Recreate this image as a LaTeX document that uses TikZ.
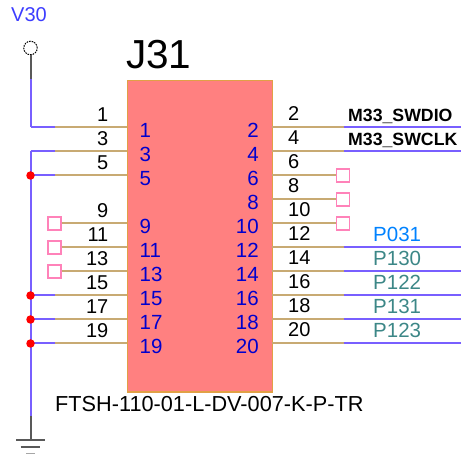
\documentclass[tikz,border=0pt]{standalone}
\usepackage{fontspec}
\setmainfont{Liberation Sans}
\definecolor{wireblue}{RGB}{120,95,255}
\definecolor{pintan}{RGB}{200,170,115}
\definecolor{boxfill}{RGB}{255,128,128}
\definecolor{boxline}{RGB}{225,160,70}
\definecolor{innerblue}{RGB}{0,0,205}
\definecolor{vblue}{RGB}{60,60,255}
\definecolor{nsquare}{RGB}{255,130,185}
\definecolor{netcyan}{RGB}{0,130,255}
\definecolor{netteal}{RGB}{60,135,135}
\tikzset{
 x=1pt,y=-1pt,
 wire/.style={draw=wireblue,line width=2pt},
 pinline/.style={draw=pintan,line width=2pt},
 blk/.style={draw=black!65,line width=2pt},
 outnum/.style={inner sep=0pt,font=\fontsize{20}{20}\selectfont,text=black},
 innum/.style={inner sep=0pt,font=\fontsize{20.5}{20.5}\selectfont,text=innerblue},
 nc/.style={draw=nsquare,line width=1.2pt,fill=white,minimum size=13pt,inner sep=0pt,rectangle},
 jct/.style={circle,fill=red,inner sep=0pt,minimum size=8.5pt},
 net/.style={inner sep=0pt,font=\fontsize{20.5}{20.5}\selectfont,anchor=base west},
 netb/.style={inner sep=0pt,font=\fontsize{17.7}{17.7}\selectfont\bfseries,text=black,anchor=base west},
}
\begin{document}
\begin{tikzpicture}
\useasboundingbox (0,0) rectangle (461,454);
% body
\node[draw=boxline,fill=boxfill,line width=1.2pt,minimum width=145pt,minimum height=311.5pt,inner sep=0pt,anchor=north west] (body) at (127,80) {};
\node[inner sep=0pt,font=\fontsize{40.5}{40.5}\selectfont,anchor=base west] (title) at (126,68.5) {J31};
\node[inner sep=0pt,font=\fontsize{20}{20}\selectfont,text=vblue,anchor=base] (vlabel) at (29,22) {V30};
\node[inner sep=0pt,font=\fontsize{21.7}{21.7}\selectfont,anchor=base west] (part) at (55,412) {FTSH-110-01-L-DV-007-K-P-TR};
% supply
\node[circle,draw=black,dash pattern=on 1.6pt off 1pt,line width=1pt,fill=white,minimum size=13.5pt,inner sep=0pt] (vcc) at (30.5,48) {};
\coordinate (vbend) at (30.5,79);
\coordinate (railtop) at (30.5,151.5);
\coordinate (railend) at (30.5,416);
\coordinate (gnd) at (30.5,440);
% left pins
\foreach \n/\yy in {1/127.5,3/151.5,5/175.5,15/295.5,17/319.5,19/343.5}{
  \coordinate (L\n) at (127,\yy);
  \coordinate (M\n) at (55,\yy);
  \coordinate (R\n) at (30.5,\yy);
  \draw[wire] (R\n) -- (M\n);
  \draw[pinline] (M\n) -- (L\n);
}
\foreach \n/\yy in {9/223.5,11/247.5,13/271.5}{
  \coordinate (L\n) at (127,\yy);
  \node[nc] (S\n) at (54.5,\yy) {};
  \draw[pinline] (S\n.east) -- (L\n);
}
\foreach \n/\yy in {1/127.5,3/151.5,5/175.5,9/223.5,11/247.5,13/271.5,15/295.5,17/319.5,19/343.5}{
  \node[outnum,anchor=base east] (o\n) at (108.5,\yy-6) {\n};
  \node[innum,anchor=base west] (i\n) at (139.5,\yy+10.5) {\n};
}
\draw[blk] (vcc) -- (vbend);
\draw[wire] (vbend) -- (R1);
\draw[wire] (railtop) -- (railend);
\draw[blk] (railend) -- (gnd);
\coordinate (g1a) at (16,440); \coordinate (g1b) at (45,440);
\coordinate (g2a) at (20.5,447); \coordinate (g2b) at (40,447);
\coordinate (g3a) at (26,453.5); \coordinate (g3b) at (35,453.5);
\draw[blk] (g1a) -- (g1b);
\draw[blk] (g2a) -- (g2b);
\draw[draw=black!35,line width=1pt] (g3a) -- (g3b);
\foreach \n in {5,15,17,19}{\node[jct] (J\n) at (R\n) {};}
% right pins
\foreach \n/\yy in {2/127.5,4/151.5,12/247.5,14/271.5,16/295.5,18/319.5,20/343.5}{
  \coordinate (P\n) at (272,\yy);
  \coordinate (Q\n) at (343.5,\yy);
  \coordinate (E\n) at (461,\yy);
  \draw[pinline] (P\n) -- (Q\n);
  \draw[wire] (Q\n) -- (E\n);
}
\foreach \n/\yy in {6/175.5,8/199.5,10/223.5}{
  \coordinate (P\n) at (272,\yy);
  \node[nc] (S\n) at (343,\yy) {};
  \draw[pinline] (P\n) -- (S\n.west);
}
\foreach \n/\yy in {2/127.5,4/151.5,6/175.5,8/199.5,10/223.5,12/247.5,14/271.5,16/295.5,18/319.5,20/343.5}{
  \node[outnum,anchor=base west] (o\n) at (288,\yy-6.5) {\n};
  \node[innum,anchor=base east] (i\n) at (259,\yy+10.5) {\n};
}
% nets
\node[netb] (nswd) at (348,121.5) {M33\_SWDIO};
\node[netb] (nswc) at (348,145.5) {M33\_SWCLK};
\node[net,text=netcyan] (n031) at (373,242) {P031};
\node[net,text=netteal] (n130) at (373,266) {P130};
\node[net,text=netteal] (n122) at (373,290) {P122};
\node[net,text=netteal] (n131) at (373,314) {P131};
\node[net,text=netteal] (n123) at (373,338) {P123};
\end{tikzpicture}
\end{document}
